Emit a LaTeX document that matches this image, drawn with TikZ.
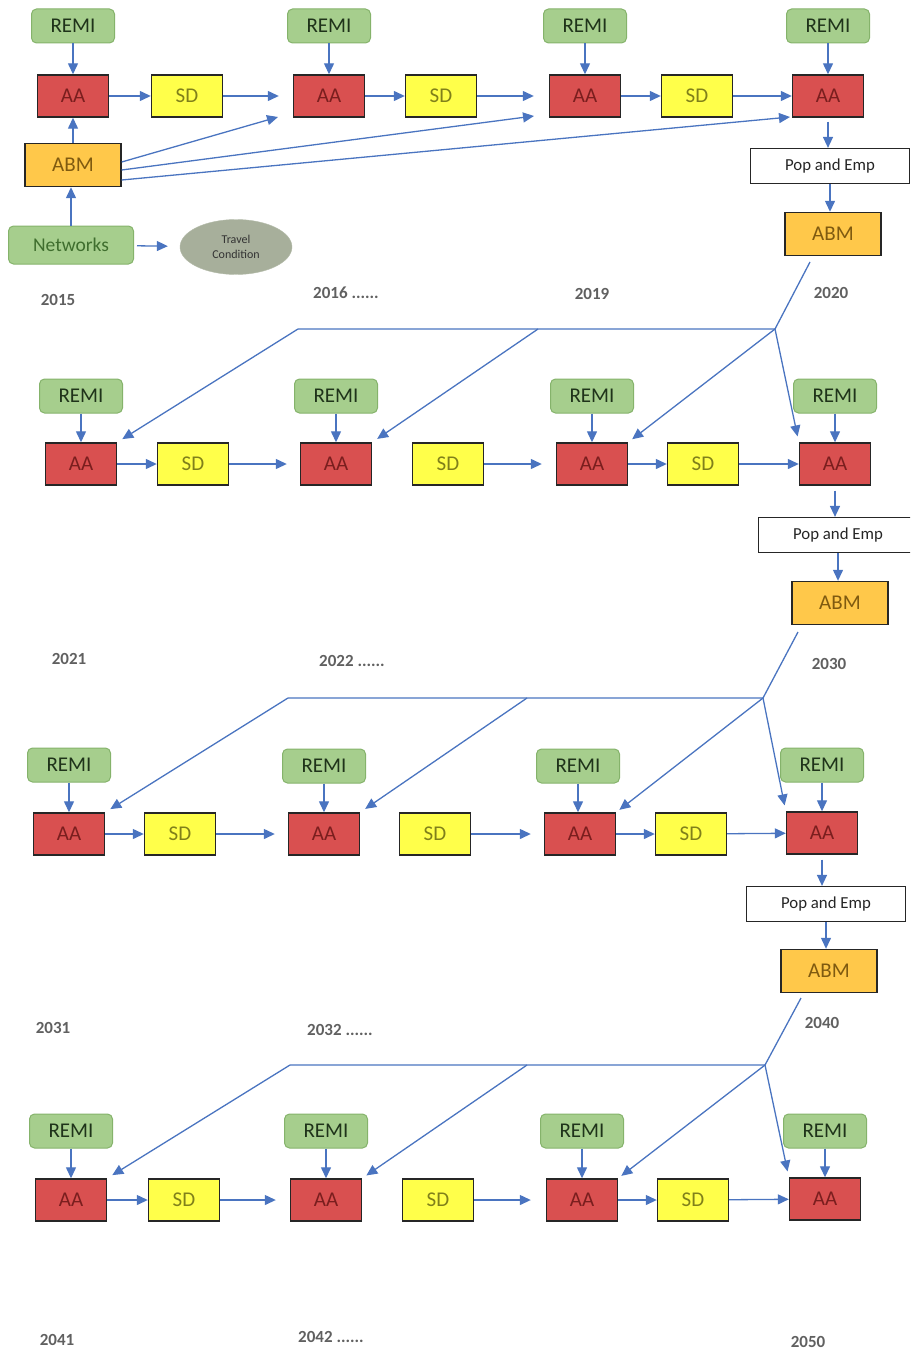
\documentclass[tikz,border=0pt]{standalone}
\usepackage{fontspec}
\setmainfont{Carlito}
\usepackage{tikz}
\usetikzlibrary{arrows.meta,shapes.geometric,calc}
\definecolor{remifill}{HTML}{A6CE8D}
\definecolor{remidraw}{HTML}{85B36B}
\definecolor{remitext}{HTML}{1F331A}
\definecolor{nettext}{HTML}{3F6E2E}
\definecolor{aafill}{HTML}{D95050}
\definecolor{aatext}{HTML}{7A1E1E}
\definecolor{sdfill}{HTML}{FFFF4A}
\definecolor{sdtext}{HTML}{80801A}
\definecolor{abmfill}{HTML}{FFC84A}
\definecolor{abmtext}{HTML}{7F5A10}
\definecolor{travfill}{HTML}{A7AF9B}
\definecolor{linkblue}{HTML}{4A74C0}
\definecolor{yeargray}{HTML}{606060}

\begin{document}
\begin{tikzpicture}[x=1pt, y=-1pt]
\tikzstyle{main}=[rectangle, draw=black!85, line width=1.4pt, minimum width=71pt, minimum height=42pt, inner sep=0pt, font=\fontsize{21}{24}\selectfont]
\tikzstyle{aa}=[main, fill=aafill, text=aatext]
\tikzstyle{sd}=[main, fill=sdfill, text=sdtext]
\tikzstyle{abm}=[main, fill=abmfill, text=abmtext, minimum width=96pt, minimum height=43pt]
\tikzstyle{remi}=[main, rounded corners=5pt, draw=remidraw, line width=1pt, fill=remifill, text=remitext, minimum width=83pt, minimum height=34pt]
\tikzstyle{net}=[remi, text=nettext, minimum width=125pt, minimum height=38pt, font=\fontsize{19.5}{22}\selectfont]
\tikzstyle{travel}=[ellipse, fill=travfill, draw=travfill!85!white, inner sep=0pt, minimum width=112pt, minimum height=55pt, align=center, text=black!80, font=\fontsize{12}{15}\selectfont]
\tikzstyle{pop}=[main, fill=white, line width=1.2pt, minimum width=159pt, minimum height=35pt, text=black!85, font=\fontsize{16.8}{20}\selectfont]
\tikzstyle{year}=[text=yeargray, font=\bfseries\fontsize{17}{20}\selectfont]
\tikzstyle{connect}=[-{Triangle[length=11pt,width=10pt]}, line width=1.3pt, draw=linkblue]
\tikzstyle{link}=[line width=1.3pt, draw=linkblue]

\useasboundingbox (0,0) rectangle (910,1351);
\clip (0,0) rectangle (910,1351);

  % 2015 - 2020
  \node[remi] (R1a) at (73,26)   {REMI};
  \node[aa]   (A1a) at (73,96)   {AA};
  \node[sd]   (S1a) at (187,96)  {SD};
  \node[abm]  (B1)  at (73,165)  {ABM};
  \node[net]  (net) at (71,245)  {Networks};
  \node[travel] (trav) at (236,247) {Travel\\Condition};
  \node[remi] (R1b) at (329,26)  {REMI};
  \node[aa]   (A1b) at (329,96)  {AA};
  \node[sd]   (S1b) at (441,96)  {SD};
  \node[remi] (R1c) at (585,26)  {REMI};
  \node[aa]   (A1c) at (585,96)  {AA};
  \node[sd]   (S1c) at (697,96)  {SD};
  \node[remi] (R1d) at (828,26)  {REMI};
  \node[aa]   (A1d) at (828,96)  {AA};
  \node[pop]  (P1)  at (830,166) {Pop and Emp};
  \node[abm]  (B2)  at (833,234) {ABM};

  \node[year] (y2015) at (58,300)  {2015};
  \node[year] (y2016) at (346,293) {2016 ......};
  \node[year] (y2019) at (592,294) {2019};
  \node[year] (y2020) at (831,293) {2020};

  \path (R1a) edge [connect] (A1a);
  \path (R1b) edge [connect] (A1b);
  \path (R1c) edge [connect] (A1c);
  \path (R1d) edge [connect] (A1d);
  \path (A1a) edge [connect] (S1a);
  \path (A1b) edge [connect] (S1b);
  \path (A1c) edge [connect] (S1c);
  \path (S1a) edge [connect, shorten >=14pt] (A1b);
  \path (S1b) edge [connect, shorten >=15pt] (A1c);
  \path (S1c) edge [connect] (A1d);
  \path (B1) edge [connect] (A1a);
  \path (net) edge [connect] (net |- B1.south);
  \path (net) edge [connect, shorten <=3pt, shorten >=12pt] (trav);
  \path (A1d) edge [connect, shorten <=4pt] (A1d |- P1.north);
  \path (P1) edge [connect] (P1 |- B2.north);

  \coordinate (f1) at (278,117);
  \coordinate (f2) at (534,116);
  \coordinate (f3) at (790,117);
  \draw[connect] ($(B1.east)+(0,-3)$) -- (f1);
  \draw[connect] ($(B1.east)+(0,5)$) -- (f2);
  \draw[connect] ($(B1.east)+(0,15)$) -- (f3);

  % 2021 - 2030
  \node[remi] (R2a) at (81,396)  {REMI};
  \node[aa]   (A2a) at (81,464)  {AA};
  \node[sd]   (S2a) at (193,464) {SD};
  \node[remi] (R2b) at (336,396) {REMI};
  \node[aa]   (A2b) at (336,464) {AA};
  \node[sd]   (S2c) at (448,464) {SD};
  \node[remi] (R2c) at (592,396) {REMI};
  \node[aa]   (A2c) at (592,464) {AA};
  \node[sd]   (S2d) at (703,464) {SD};
  \node[remi] (R2d) at (835,396) {REMI};
  \node[aa]   (A2d) at (835,464) {AA};
  \node[pop]  (P2)  at (838,535) {Pop and Emp};
  \node[abm]  (B3)  at (840,603) {ABM};

  \node[year] (y2021) at (69,659)  {2021};
  \node[year] (y2022) at (352,661) {2022 ......};
  \node[year] (y2030) at (829,664) {2030};

  \path (R2a) edge [connect] (A2a);
  \path (R2b) edge [connect] (A2b);
  \path (R2c) edge [connect] (A2c);
  \path (R2d) edge [connect] (A2d);
  \path (A2a) edge [connect] (S2a);
  \path (S2a) edge [connect, shorten >=13pt] (A2b);
  \path (S2c) edge [connect, shorten >=14pt] (A2c);
  \path (A2c) edge [connect] (S2d);
  \path (S2d) edge [connect] (A2d);
  \path (A2d) edge [connect, shorten <=5pt] (A2d |- P2.north);
  \path (P2) edge [connect] (P2 |- B3.north);

  \coordinate (fb1) at (810,262);
  \coordinate (br1) at (775,329);
  \coordinate (hl1) at (298,329);
  \coordinate (md1) at (538,329);
  \draw[link] (fb1) -- (br1) -- (hl1);
  \path (hl1) edge [connect, shorten >=6pt] (A2a.north east);
  \path (md1) edge [connect, shorten >=6pt] (A2b.north east);
  \path (br1) edge [connect, shorten >=5pt] (A2c.north east);
  \path (br1) edge [connect, shorten >=6pt] (A2d.north west);

  % 2031 - 2040
  \node[remi] (R3a) at (69,765)  {REMI};
  \node[aa]   (A3a) at (69,834)  {AA};
  \node[sd]   (S3a) at (180,834) {SD};
  \node[remi] (R3b) at (324,766) {REMI};
  \node[aa]   (A3b) at (324,834) {AA};
  \node[sd]   (S3c) at (435,834) {SD};
  \node[remi] (R3c) at (578,766) {REMI};
  \node[aa]   (A3c) at (580,834) {AA};
  \node[sd]   (S3d) at (691,834) {SD};
  \node[remi] (R3d) at (822,765) {REMI};
  \node[aa]   (A3d) at (822,833) {AA};
  \node[pop]  (P3)  at (826,904) {Pop and Emp};
  \node[abm]  (B4)  at (829,971) {ABM};

  \node[year] (y2031) at (53,1028)  {2031};
  \node[year] (y2032) at (340,1030) {2032 ......};
  \node[year] (y2040) at (822,1023) {2040};

  \path (R3a) edge [connect] (A3a);
  \path (R3b) edge [connect] (A3b);
  \path (R3c) edge [connect] (R3c |- A3c.north);
  \path (R3d) edge [connect] (A3d);
  \path (A3a) edge [connect] (S3a);
  \path (S3a) edge [connect, shorten >=13pt] (A3b);
  \path (S3c) edge [connect, shorten >=13pt] (A3c);
  \path (A3c) edge [connect] (S3d);
  \path (S3d) edge [connect] (A3d);
  \path (A3d) edge [connect, shorten <=5pt] (A3d |- P3.north);
  \path (P3) edge [connect] (P3 |- B4.north);

  \coordinate (fb2) at (798,632);
  \coordinate (br2) at (763,698);
  \coordinate (hl2) at (288,698);
  \coordinate (md2) at (527,698);
  \draw[link] (fb2) -- (br2) -- (hl2);
  \path (hl2) edge [connect, shorten >=6pt] (A3a.north east);
  \path (md2) edge [connect, shorten >=6pt] (A3b.north east);
  \path (br2) edge [connect, shorten >=4pt] (A3c.north east);
  \path (br2) edge [connect, shorten >=6pt] (A3d.north west);

  % 2041 - 2050
  \node[remi] (R4a) at (71,1131)  {REMI};
  \node[aa]   (A4a) at (71,1200)  {AA};
  \node[sd]   (S4a) at (184,1200) {SD};
  \node[remi] (R4b) at (326,1131) {REMI};
  \node[aa]   (A4b) at (326,1200) {AA};
  \node[sd]   (S4c) at (438,1200) {SD};
  \node[remi] (R4c) at (582,1131) {REMI};
  \node[aa]   (A4c) at (582,1200) {AA};
  \node[sd]   (S4d) at (693,1200) {SD};
  \node[remi] (R4d) at (825,1131) {REMI};
  \node[aa]   (A4d) at (825,1199) {AA};

  \node[year] (y2041) at (57,1340)  {2041};
  \node[year] (y2042) at (331,1337) {2042 ......};
  \node[year] (y2050) at (808,1342) {2050};

  \path (R4a) edge [connect] (A4a);
  \path (R4b) edge [connect] (A4b);
  \path (R4c) edge [connect] (A4c);
  \path (R4d) edge [connect] (A4d);
  \path (A4a) edge [connect] (S4a);
  \path (S4a) edge [connect, shorten >=14pt] (A4b);
  \path (S4c) edge [connect, shorten >=15pt] (A4c);
  \path (A4c) edge [connect] (S4d);
  \path (S4d) edge [connect] (A4d);

  \coordinate (fb3) at (801,998);
  \coordinate (br3) at (765,1065);
  \coordinate (hl3) at (290,1065);
  \coordinate (md3) at (527,1065);
  \draw[link] (fb3) -- (br3) -- (hl3);
  \path (hl3) edge [connect, shorten >=6pt] (A4a.north east);
  \path (md3) edge [connect, shorten >=5pt] (A4b.north east);
  \path (br3) edge [connect, shorten >=4pt] (A4c.north east);
  \path (br3) edge [connect, shorten >=6pt] (A4d.north west);

\end{tikzpicture}
\end{document}
